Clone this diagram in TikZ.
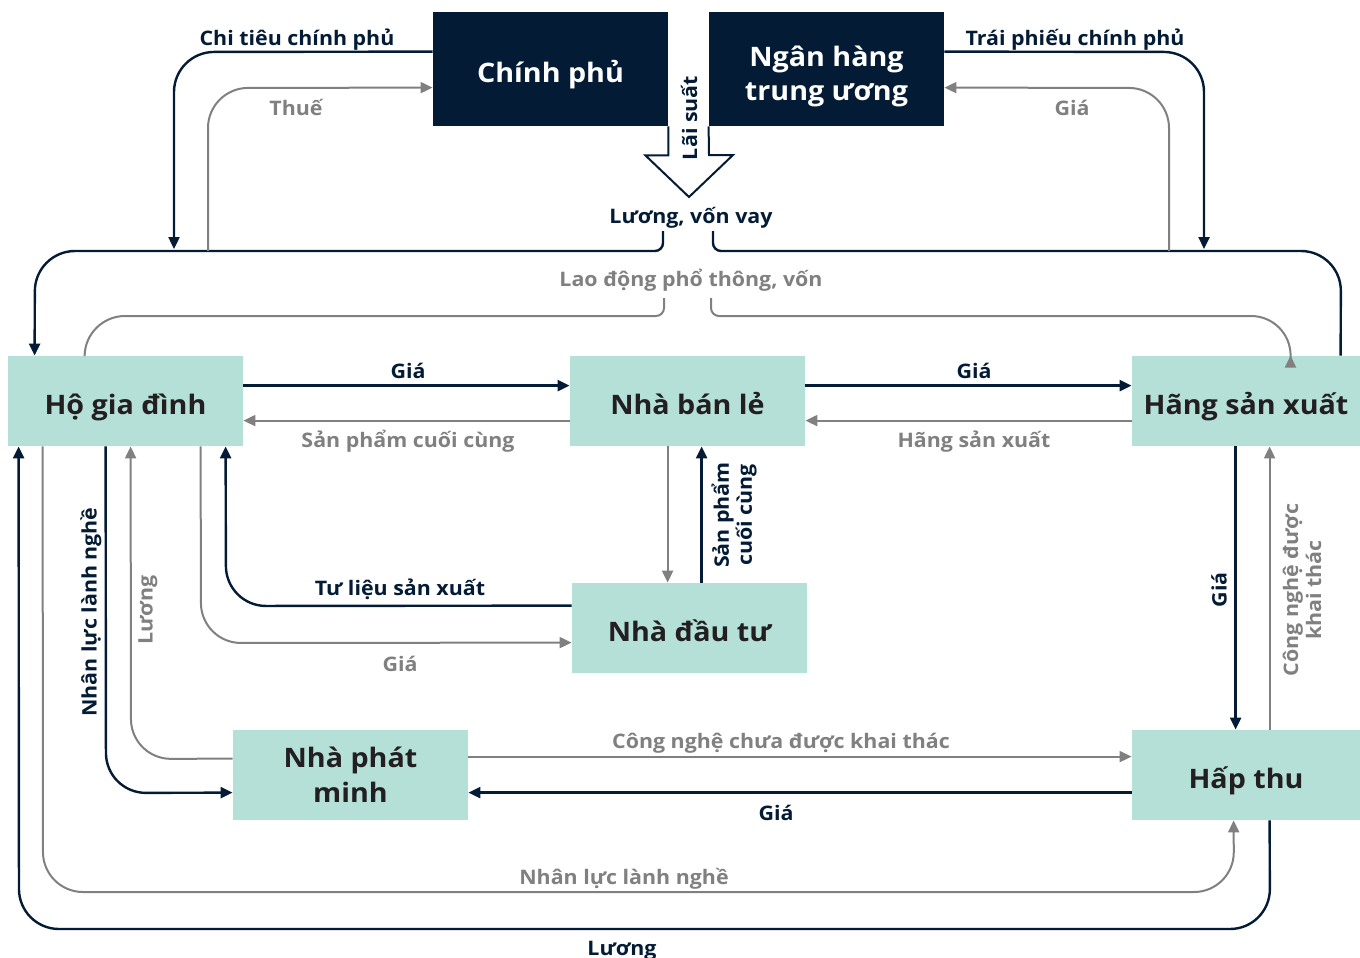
\documentclass[tikz,border=0pt]{standalone}
\usepackage{fontspec}
\setmainfont{Open Sans}[FakeStretch=1.07]
\usetikzlibrary{arrows.meta,calc}
\definecolor{navy}{HTML}{031B34}
\definecolor{grayc}{HTML}{808080}
\definecolor{mint}{HTML}{B5E0D8}
\definecolor{boxtext}{HTML}{231F20}
\tikzset{
  box/.style={fill=mint, minimum width=117.5pt, minimum height=45pt, inner sep=0pt,
    text=boxtext, font=\fontsize{13.4}{17.5}\selectfont\bfseries, align=center,
    text height=13pt, text depth=0pt},
  box2/.style={fill=mint, minimum width=117.5pt, minimum height=45pt, inner sep=0pt,
    text=boxtext, font=\fontsize{13.4}{17.5}\selectfont\bfseries, align=center,
    text depth=0pt},
  darkbox/.style={fill=navy, minimum width=117.5pt, minimum height=57pt, inner sep=0pt,
    text=white, font=\fontsize{13.4}{17}\selectfont\bfseries, align=center,
    text height=13pt, text depth=0pt},
  darkbox2/.style={fill=navy, minimum width=117.5pt, minimum height=57pt, inner sep=0pt,
    text=white, font=\fontsize{13.4}{17}\selectfont\bfseries, align=center,
    text height=31pt, text depth=0pt},
  nline/.style={draw=navy, line width=1.2pt},
  gline/.style={draw=grayc, line width=1pt},
  narr/.style={nline, -{Triangle[length=6pt,width=5.5pt]}},
  garr/.style={gline, -{Triangle[length=6pt,width=5.5pt]}},
  nlab/.style={text=navy, font=\fontsize{10}{11.5}\selectfont\bfseries, inner sep=0pt, align=center},
  glab/.style={text=grayc, font=\fontsize{10}{11.5}\selectfont\bfseries, inner sep=0pt, align=center},
  hl/.style={text height=7pt, text depth=0pt},
}
\begin{document}
\begin{tikzpicture}[x=0.5pt,y=-0.5pt]
\useasboundingbox (0,0) rectangle (1360,958);
% nodes
\node[darkbox] (cp) at (550.5,69) {Chính phủ};
\node[darkbox2] (nh) at (826.5,69) {Ngân hàng\\trung ương};
\node[box] (ho) at (125.5,401) {Hộ gia đình};
\node[box] (bl) at (687.5,401) {Nhà bán lẻ};
\node[box, minimum width=114pt] (hs) at (1246,401) {Hãng sản xuất};
\node[box] (dt) at (689.5,628) {Nhà đầu tư};
\node[box2] (pm) at (350.5,775) {Nhà phát\\minh};
\node[box, minimum width=114pt] (ht) at (1246,775) {Hấp thu};
% hollow arrow
\draw[draw=navy, line width=1pt, fill=white, line join=miter]
  (cp.south east) -- ++(0,29) -- ++(-23,0) -- (689,197) -- (733,155) -- (709,155) -- (nh.south west);
\node[nlab, rotate=90] (ls) at (689,118) {Lãi suất};
% labels
\node[nlab, hl] (lvv) at (691,216) {Lương, vốn vay};
\node[glab, hl] (ldpt) at (691,279) {Lao động phổ thông, vốn};
\node[nlab, hl] (lctcp) at (297,38) {Chi tiêu chính phủ};
\node[glab, hl] (lthue) at (296,108) {Thuế};
\node[nlab, hl] (ltp) at (1075,38) {Trái phiếu chính phủ};
\node[glab, hl] (lgia1) at (1072,108) {Giá};
\node[nlab, hl] (lg2) at (408,371) {Giá};
\node[glab, hl] (lspcc) at (408,440) {Sản phẩm cuối cùng};
\node[nlab, hl] (lg3) at (974,371) {Giá};
\node[glab, hl] (lhsx) at (974,440) {Hãng sản xuất};
\node[nlab, rotate=90] (lspcc2) at (734,515) {Sản phẩm\\cuối cùng};
\node[nlab, hl] (ltlsx) at (400,588) {Tư liệu sản xuất};
\node[glab, hl] (lg4) at (400,664) {Giá};
\node[nlab, rotate=90] (lg5) at (1219,590) {Giá};
\node[glab, rotate=90] (lcndkt) at (1302,590) {Công nghệ được\\khai thác};
\node[glab, hl] (lcncdkt) at (781,741) {Công nghệ chưa được khai thác};
\node[nlab, hl] (lg6) at (776,813) {Giá};
\node[nlab, rotate=90] (lnllnn) at (91,612) {Nhân lực lành nghề};
\node[glab, rotate=90] (lluong) at (148,610) {Lương};
\node[glab, hl] (lnllnn2) at (624,877) {Nhân lực lành nghề};
\node[nlab, hl] (lluong2) at (622,948) {Lương};
% free ends
\coordinate (lvvL) at (663,231);
\coordinate (lvvR) at (713,231);
\coordinate (ldL) at (664,298);
\coordinate (ldR) at (711,298);
\coordinate (thueS) at (208,251);
\coordinate (giaS) at (1169,251);
% top loops
\draw[nline, rounded corners=20pt] ($(hs.north west)+(209,0)$) -- (1341,251) [rounded corners=4pt] -- (713,251) -- (lvvR);
\draw[narr, rounded corners=4pt] (lvvL) -- (663,251) [rounded corners=20pt] -- (35,251) -- ($(ho.north west)+(27,0)$);
\draw[gline, rounded corners=4pt] ($(ho.north west)+(77,0)$) [rounded corners=20pt] -- (85,316) [rounded corners=4pt] -- (664,316) -- (ldL);
\draw[garr, rounded corners=4pt] (ldR) -- (711,316) [rounded corners=20pt] -- (1291,316) -- ($(hs.north west)+(159,0)$);
\draw[narr, rounded corners=20pt] ($(cp.north west)+(0,40)$) -- (174,52) -- (174,249);
\draw[garr, rounded corners=20pt] (thueS) -- (208,88) -- ($(cp.north west)+(0,76)$);
\draw[narr, rounded corners=20pt] ($(nh.north east)+(0,40)$) -- (1204,52) -- (1204,249);
\draw[garr, rounded corners=20pt] (giaS) -- (1169,88) -- ($(nh.north east)+(0,76)$);
% horizontals
\draw[narr] ($(ho.north east)+(0,30)$) -- ($(bl.north west)+(0,30)$);
\draw[garr] ($(bl.north west)+(0,65)$) -- ($(ho.north east)+(0,65)$);
\draw[narr] ($(bl.north east)+(0,30)$) -- ($(hs.north west)+(0,30)$);
\draw[garr] ($(hs.north west)+(0,65)$) -- ($(bl.north east)+(0,65)$);
% retail <-> investor
\draw[garr] ($(bl.south west)+(98,0)$) -- ($(dt.north west)+(96,0)$);
\draw[narr] ($(dt.north west)+(130,0)$) -- ($(bl.south west)+(132,0)$);
% household <-> investor
\draw[narr, rounded corners=20pt] ($(dt.north west)+(0,23)$) -- (226,606) -- ($(ho.south west)+(218,0)$);
\draw[garr, rounded corners=20pt] ($(ho.south west)+(193,0)$) -- (201,643) -- ($(dt.north west)+(0,60)$);
% producer <-> absorption
\draw[narr] ($(hs.south west)+(104,0)$) -- ($(ht.north west)+(104,0)$);
\draw[garr] ($(ht.north west)+(138,0)$) -- ($(hs.south west)+(138,0)$);
% inventor <-> absorption
\draw[garr] ($(pm.north east)+(0,27)$) -- ($(ht.north west)+(0,27)$);
\draw[narr] ($(ht.north west)+(0,63)$) -- ($(pm.north east)+(0,63)$);
% household <-> inventor
\draw[narr, rounded corners=20pt] ($(ho.south west)+(98,0)$) -- (106,793) -- ($(pm.north west)+(0,63)$);
\draw[garr, rounded corners=20pt] ($(pm.north west)+(0,29)$) -- (131,759) -- ($(ho.south west)+(123,0)$);
% outer loops
\draw[garr, rounded corners=20pt] ($(ho.south west)+(35,0)$) -- (43,892) -- (1234,892) -- ($(ht.south west)+(102,0)$);
\draw[narr, rounded corners=20pt] ($(ht.south west)+(138,0)$) -- (1270,929) -- (19,929) -- ($(ho.south west)+(11,0)$);
\end{tikzpicture}
\end{document}
